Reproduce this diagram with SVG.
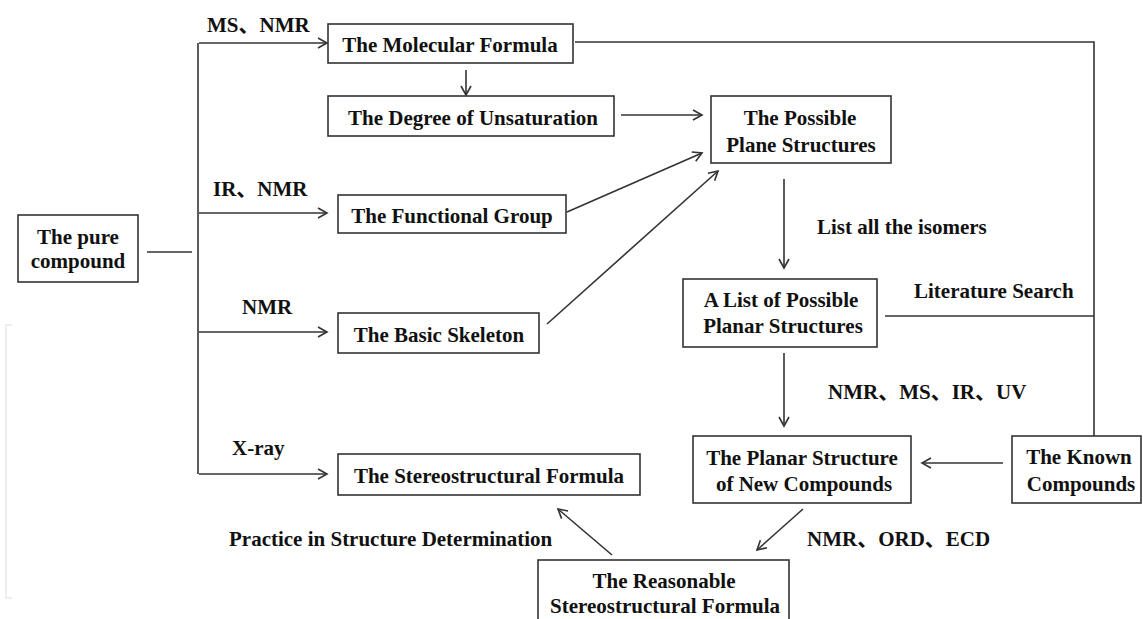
<svg xmlns="http://www.w3.org/2000/svg" width="1143" height="619" viewBox="0 0 1143 619">
<defs>
<marker id="arr" markerUnits="userSpaceOnUse" markerWidth="12" markerHeight="12" viewBox="0 0 12 12" refX="10" refY="6" orient="auto">
<path d="M1,1 L10,6 L1,11" fill="none" stroke="#333" stroke-width="1.6"/>
</marker>
<style>
.box{fill:#fff;stroke:#333;stroke-width:1.6}
.t{font-family:"Liberation Serif","Noto Sans CJK SC",serif;font-weight:bold;font-size:21px;fill:#111}
.m{text-anchor:middle}
.c{fill:none;stroke:#333;stroke-width:1.6}
</style>
</defs>
<rect width="1143" height="619" fill="#fff"/>
<path d="M12,325 H6 V598 H12" fill="none" stroke="#eeeeee" stroke-width="2"/>
<g id="connectors">
<path class="c" d="M198,43 V474"/>
<path class="c" d="M147,252 H192"/>
<path class="c" d="M199,43 H327" marker-end="url(#arr)"/>
<path class="c" d="M199,213 H327" marker-end="url(#arr)"/>
<path class="c" d="M199,332 H327" marker-end="url(#arr)"/>
<path class="c" d="M199,474 H327" marker-end="url(#arr)"/>
<path class="c" d="M466,70 V95" marker-end="url(#arr)"/>
<path class="c" d="M621,115 H702" marker-end="url(#arr)"/>
<path class="c" d="M567,212 L702,153" marker-end="url(#arr)"/>
<path class="c" d="M547,324 L718,171" marker-end="url(#arr)"/>
<path class="c" d="M784,179 V268" marker-end="url(#arr)"/>
<path class="c" d="M784,353 V426" marker-end="url(#arr)"/>
<path class="c" d="M575,42 H1094 V436"/>
<path class="c" d="M885,316 H1094"/>
<path class="c" d="M1003,463 H922" marker-end="url(#arr)"/>
<path class="c" d="M803,509 L757,550" marker-end="url(#arr)"/>
<path class="c" d="M612,555 L558,509" marker-end="url(#arr)"/>
</g>
<g id="labels">
<text class="t" x="207" y="32">MS、NMR</text>
<text class="t" x="213" y="196">IR、NMR</text>
<text class="t" x="242" y="314">NMR</text>
<text class="t" x="232" y="455">X-ray</text>
<text class="t" x="817" y="234">List all the isomers</text>
<text class="t" x="914" y="298">Literature Search</text>
<text class="t" x="828" y="399">NMR、MS、IR、UV</text>
<text class="t" x="807" y="546">NMR、ORD、ECD</text>
<text class="t" x="229" y="546">Practice in Structure Determination</text>
</g>
<g id="pure">
<rect class="box" x="18" y="215" width="120" height="67"/>
<text class="t m" x="78" y="244">The pure</text>
<text class="t m" x="78" y="268">compound</text>
</g>
<g id="molecular">
<rect class="box" x="328" y="24" width="245" height="39"/>
<text class="t m" x="450" y="52">The Molecular Formula</text>
</g>
<g id="degree">
<rect class="box" x="328" y="96" width="286" height="40"/>
<text class="t m" x="473" y="125">The Degree of Unsaturation</text>
</g>
<g id="possible">
<rect class="box" x="711" y="96" width="180" height="67"/>
<text class="t m" x="800" y="125">The Possible</text>
<text class="t m" x="801" y="152">Plane Structures</text>
</g>
<g id="functional">
<rect class="box" x="338" y="195" width="228" height="38"/>
<text class="t m" x="452" y="223">The Functional Group</text>
</g>
<g id="skeleton">
<rect class="box" x="338" y="313" width="201" height="40"/>
<text class="t m" x="439" y="342">The Basic Skeleton</text>
</g>
<g id="list">
<rect class="box" x="683" y="279" width="194" height="68"/>
<text class="t m" x="781" y="307">A List of Possible</text>
<text class="t m" x="783" y="333">Planar Structures</text>
</g>
<g id="stereo">
<rect class="box" x="338" y="454" width="302" height="41"/>
<text class="t m" x="489" y="483">The Stereostructural Formula</text>
</g>
<g id="planar">
<rect class="box" x="693" y="436" width="218" height="67"/>
<text class="t m" x="802" y="465">The Planar Structure</text>
<text class="t m" x="804" y="491">of New Compounds</text>
</g>
<g id="known">
<rect class="box" x="1012" y="436" width="129" height="67"/>
<text class="t m" x="1079" y="464">The Known</text>
<text class="t m" x="1081" y="491">Compounds</text>
</g>
<g id="reasonable">
<rect class="box" x="538" y="560" width="251" height="70"/>
<text class="t m" x="664" y="588">The Reasonable</text>
<text class="t m" x="665" y="613">Stereostructural Formula</text>
</g>
</svg>
